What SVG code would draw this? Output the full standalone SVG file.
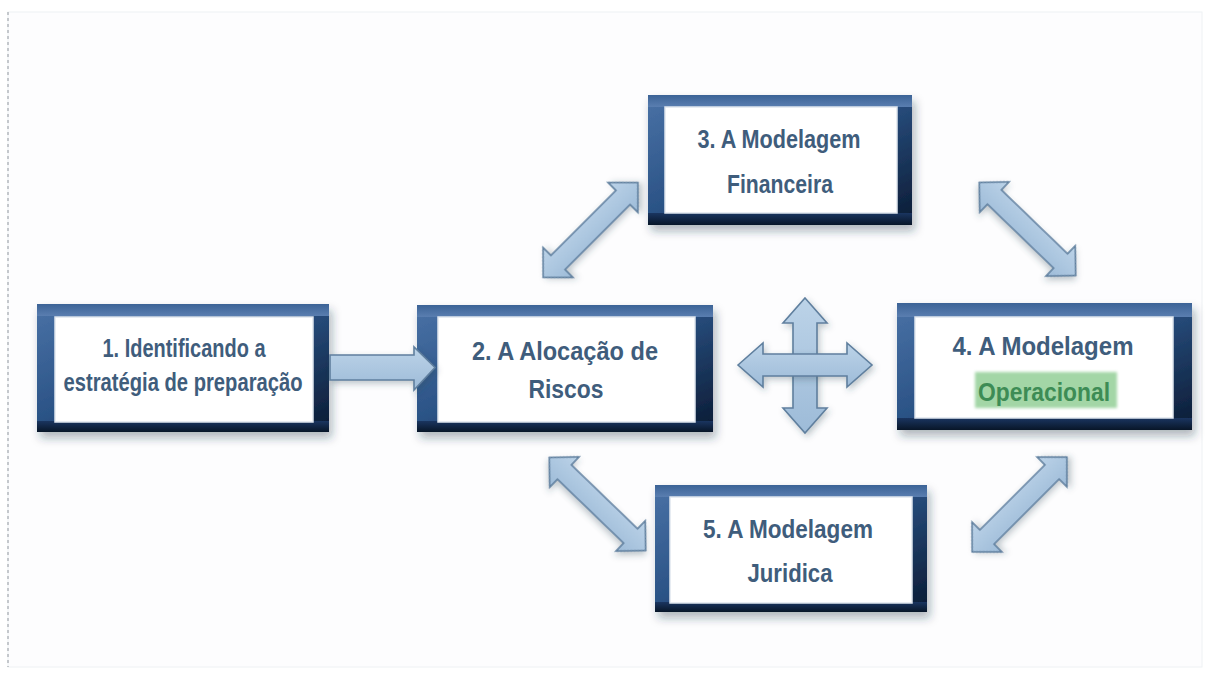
<svg xmlns="http://www.w3.org/2000/svg" width="1205" height="678" viewBox="0 0 1205 678">
<defs>
<linearGradient id="frame" x1="0" y1="0" x2="1" y2="1">
<stop offset="0" stop-color="#4a72a6"/>
<stop offset="0.45" stop-color="#2b5386"/>
<stop offset="1" stop-color="#0a1a33"/>
</linearGradient>
<linearGradient id="frameTop" x1="0" y1="0" x2="0" y2="1">
<stop offset="0" stop-color="#3c6396"/>
<stop offset="1" stop-color="#5a7eb0"/>
</linearGradient>
<linearGradient id="frameBot" x1="0" y1="0" x2="0" y2="1">
<stop offset="0" stop-color="#1a3560"/>
<stop offset="1" stop-color="#081628"/>
</linearGradient>
<linearGradient id="arrowFill" x1="0" y1="0" x2="0" y2="1">
<stop offset="0" stop-color="#bcd3e8"/>
<stop offset="1" stop-color="#9dbbd8"/>
</linearGradient>
<filter id="shadow" x="-10%" y="-10%" width="125%" height="135%">
<feDropShadow dx="3" dy="6" stdDeviation="5" flood-color="#223344" flood-opacity="0.35"/>
</filter>
<filter id="ashadow" x="-20%" y="-20%" width="150%" height="150%">
<feDropShadow dx="2" dy="3" stdDeviation="3" flood-color="#334455" flood-opacity="0.3"/>
</filter>
<filter id="soft" x="-5%" y="-20%" width="110%" height="140%">
<feGaussianBlur stdDeviation="1.5"/>
</filter>
<path id="dbl" d="M-67,0 L-46,-21 L-46,-10 L46,-10 L46,-21 L67,0 L46,21 L46,10 L-46,10 L-46,21 Z"/>
</defs>
<style>
.outer{fill:url(#frame);filter:url(#shadow)}
.inner{fill:#ffffff;stroke:#dfe6ee;stroke-width:1.5}
.lbl{font-family:"Liberation Sans",Arial,sans-serif;font-weight:bold;font-size:26px;fill:#3f5d7c;text-anchor:middle}
.arr{fill:url(#arrowFill);stroke:#5f7f9e;stroke-width:1.6;stroke-linejoin:miter;filter:url(#ashadow)}
</style>
<rect x="0" y="0" width="1205" height="678" fill="#ffffff"/>
<rect x="8" y="12" width="1194" height="655" fill="#fdfdfe" stroke="#eef1f4" stroke-width="1"/>
<line x1="8" y1="12" x2="8" y2="667" stroke="#b4b8bd" stroke-width="1.5" stroke-dasharray="3,3"/>

<g id="node1">
<rect class="outer" x="37" y="304" width="292" height="128"/>
<rect x="37" y="304" width="292" height="12" fill="url(#frameTop)"/>
<rect x="37" y="421" width="292" height="11" fill="url(#frameBot)"/>
<rect class="inner" x="55" y="317" width="258" height="105"/>
<text class="lbl" x="184" y="357" textLength="163" lengthAdjust="spacingAndGlyphs">1. Identificando a</text>
<text class="lbl" x="183" y="391" textLength="239" lengthAdjust="spacingAndGlyphs">estratégia de preparação</text>
</g>

<g id="node2">
<rect class="outer" x="417" y="305" width="296" height="127"/>
<rect x="417" y="305" width="296" height="12" fill="url(#frameTop)"/>
<rect x="417" y="421" width="296" height="11" fill="url(#frameBot)"/>
<rect class="inner" x="438" y="317" width="257" height="105"/>
<text class="lbl" x="565" y="360" textLength="186" lengthAdjust="spacingAndGlyphs">2. A Alocação de</text>
<text class="lbl" x="566" y="398" textLength="75" lengthAdjust="spacingAndGlyphs">Riscos</text>
</g>

<g id="node3">
<rect class="outer" x="648" y="95" width="264" height="130"/>
<rect x="648" y="95" width="264" height="12" fill="url(#frameTop)"/>
<rect x="648" y="213" width="264" height="12" fill="url(#frameBot)"/>
<rect class="inner" x="665" y="107" width="232" height="106"/>
<text class="lbl" x="779" y="148" textLength="163" lengthAdjust="spacingAndGlyphs">3. A Modelagem</text>
<text class="lbl" x="780" y="193" textLength="106" lengthAdjust="spacingAndGlyphs">Financeira</text>
</g>

<g id="node4">
<rect class="outer" x="897" y="303" width="295" height="127"/>
<rect x="897" y="303" width="295" height="14" fill="url(#frameTop)"/>
<rect x="897" y="418" width="295" height="12" fill="url(#frameBot)"/>
<rect class="inner" x="915" y="317" width="258" height="101"/>
<text class="lbl" x="1043" y="355" textLength="181" lengthAdjust="spacingAndGlyphs">4. A Modelagem</text>
<rect x="975" y="372" width="142" height="36" fill="#a3d6a6" filter="url(#soft)"/>
<text class="lbl" x="1044" y="401" textLength="132" lengthAdjust="spacingAndGlyphs" style="fill:#3d8c55">Operacional</text>
</g>

<g id="node5">
<rect class="outer" x="655" y="485" width="272" height="127"/>
<rect x="655" y="485" width="272" height="12" fill="url(#frameTop)"/>
<rect x="655" y="602" width="272" height="10" fill="url(#frameBot)"/>
<rect class="inner" x="670" y="497" width="242" height="106"/>
<text class="lbl" x="788" y="538" textLength="170" lengthAdjust="spacingAndGlyphs">5. A Modelagem</text>
<text class="lbl" x="790" y="582" textLength="85" lengthAdjust="spacingAndGlyphs">Juridica</text>
</g>

<g id="connectors">
<path class="arr" d="M330,355 L414,355 L414,347 L435,367.5 L414,390 L414,380 L330,380 Z"/>
<use href="#dbl" class="arr" transform="translate(590.5,230) rotate(-45)"/>
<use href="#dbl" class="arr" transform="translate(1027.5,229) rotate(44)"/>
<use href="#dbl" class="arr" transform="translate(597.5,504) rotate(44)"/>
<use href="#dbl" class="arr" transform="translate(1019.5,504.5) rotate(-45)"/>
<path class="arr" d="M805,298 L827,323 L817,323 L817,408 L827,408 L805,433 L783,408 L793,408 L793,323 L783,323 Z"/>
<path class="arr" d="M738,365 L763,343 L763,354 L847,354 L847,343 L872,365 L847,387 L847,376 L763,376 L763,387 Z"/>
</g>
</svg>
